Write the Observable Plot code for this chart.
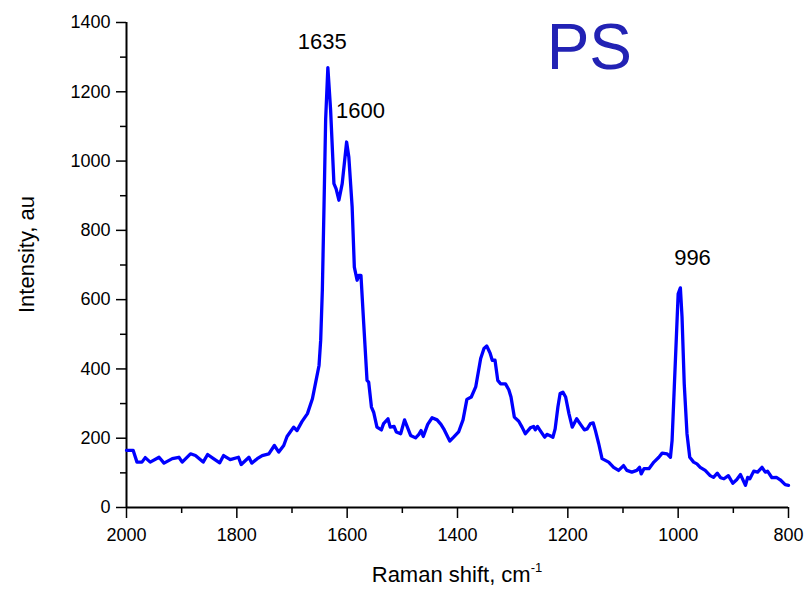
<!DOCTYPE html>
<html>
<head>
<meta charset="utf-8">
<script src="https://cdn.jsdelivr.net/npm/d3@7"></script>
<script src="https://cdn.jsdelivr.net/npm/@observablehq/plot@0.6"></script>
<style>
  html, body { margin: 0; padding: 0; background: #fff; }
  #chart { width: 812px; height: 589px; }
</style>
</head>
<body>
<div id="chart"></div>
<script>
// Raman shift (cm^-1) and intensity (au)
const shift = [2000,1988,1981,1972,1966,1957,1941,1932,1917,1905,1899,1884,1875,1861,1853,1843,1831,1824,1812,1797,1792,1778,1773,1763,1754,1742,1732,1724,1715,1709,1697,1691,1682,1672,1663,1657,1651,1648,1645,1642,1639,1635,1630,1624,1620,1615,1609,1601,1597,1591,1587,1582,1579,1575,1570,1564,1561,1556,1552,1546,1538,1534,1526,1522,1515,1511,1503,1496,1485,1476,1470,1466,1462,1454,1446,1437,1430,1425,1414,1407,1398,1390,1383,1375,1367,1358,1352,1347,1341,1337,1332,1327,1322,1313,1307,1303,1297,1289,1283,1277,1268,1262,1259,1255,1250,1242,1238,1233,1227,1223,1218,1214,1209,1204,1198,1192,1184,1177,1170,1165,1159,1154,1150,1144,1138,1132,1126,1117,1108,1099,1093,1084,1075,1070,1067,1062,1053,1044,1035,1029,1020,1014,1011,1007,1003,1000,996,993,989,984,979,972,966,960,951,942,936,929,923,917,909,901,894,887,878,874,870,863,856,848,842,838,830,822,815,806,800];
const intensity = [165,165,131,131,144,131,145,128,141,145,131,155,150,131,153,142,129,150,138,145,124,145,128,141,150,155,179,160,179,205,232,222,248,271,314,362,410,483,627,868,1120,1270,1147,935,920,887,935,1055,1012,868,694,656,670,670,531,367,362,290,275,232,224,242,256,232,234,218,213,253,208,201,211,222,205,240,259,253,240,227,192,203,218,253,312,319,348,430,459,466,446,425,425,367,357,357,340,319,261,249,232,213,230,234,224,234,222,203,211,208,203,227,290,329,333,319,271,232,256,240,224,227,242,244,222,184,141,136,131,116,107,121,107,102,107,116,97,112,112,131,145,157,155,145,194,348,502,617,634,550,357,213,145,131,126,116,107,92,87,99,86,83,92,70,80,95,64,87,83,105,102,116,102,105,86,87,80,66,64];

const xTicks = [2000, 1800, 1600, 1400, 1200, 1000, 800];
const xMinorTicks = [1900, 1700, 1500, 1300, 1100, 900];
const yTicks = [0, 200, 400, 600, 800, 1000, 1200, 1400];
const yMinorTicks = [100, 300, 500, 700, 900, 1100, 1300];

const peakLabels = ["1635", "1600", "996"];
const peakLabelX = [1645, 1576, 974];
const peakLabelY = [1343, 1144, 719];

const titleText = ["PS"];
const titleX = [1161];
const titleY = [1326];

const xTitle = "Raman shift, cm";
const xTitleSup = "-1";
const yTitle = "Intensity, au";

const spectrum = shift.map((s, i) => ({shift: s, intensity: intensity[i]}));
const peaks = peakLabels.map((t, i) => ({t, x: peakLabelX[i], y: peakLabelY[i]}));
const titles = titleText.map((t, i) => ({t, x: titleX[i], y: titleY[i]}));

const W = 812, H = 589;
const mL = 126, mR = 24, mT = 22, mB = 82;
const font = "'Liberation Sans', Arial, sans-serif";

const chart = Plot.plot({
  width: W,
  height: H,
  marginLeft: mL,
  marginRight: mR,
  marginTop: mT,
  marginBottom: mB,
  style: {fontFamily: font, fontSize: "18px", color: "black", background: "white"},
  x: {domain: [2000, 800]},
  y: {domain: [0, 1400]},
  marks: [
    Plot.axisX({ticks: xMinorTicks, tickSize: 6, text: null, strokeWidth: 1.5, label: null}),
    Plot.axisX({ticks: xTicks, tickSize: 11, tickPadding: 10, strokeWidth: 1.5, fontSize: 18, tickFormat: d => String(d), label: null}),
    Plot.axisY({ticks: yMinorTicks, tickSize: 6, text: null, strokeWidth: 1.5, label: null}),
    Plot.axisY({ticks: yTicks, tickSize: 10, tickPadding: 6, strokeWidth: 1.5, fontSize: 18, tickFormat: d => String(d), label: null}),
    Plot.ruleY([0], {strokeWidth: 2}),
    Plot.ruleX([2000], {strokeWidth: 2}),
    Plot.line(spectrum, {x: "shift", y: "intensity", stroke: "#0000ff", strokeWidth: 3.3, strokeLinejoin: "round"}),
    Plot.text(peaks, {x: "x", y: "y", text: "t", fontSize: 22, fill: "black"}),
    Plot.text(titles, {x: "x", y: "y", text: "t", fontSize: 64, fill: "#2222b4"})
  ]
});

document.getElementById("chart").appendChild(chart);

// axis titles (with superscript) appended to the plot's SVG
const svg = d3.select(chart);
const xt = svg.append("text")
  .attr("x", mL + (W - mL - mR) / 2)
  .attr("y", H - 7)
  .attr("text-anchor", "middle")
  .attr("font-family", font)
  .attr("font-size", 22)
  .attr("fill", "black");
xt.append("tspan").text(xTitle);
xt.append("tspan").attr("dy", -10).attr("font-size", 13).text(xTitleSup);

svg.append("text")
  .attr("transform", `translate(34, ${mT + (H - mT - mB) / 2 - 10}) rotate(-90)`)
  .attr("text-anchor", "middle")
  .attr("font-family", font)
  .attr("font-size", 22)
  .attr("fill", "black")
  .text(yTitle);
</script>
</body>
</html>
